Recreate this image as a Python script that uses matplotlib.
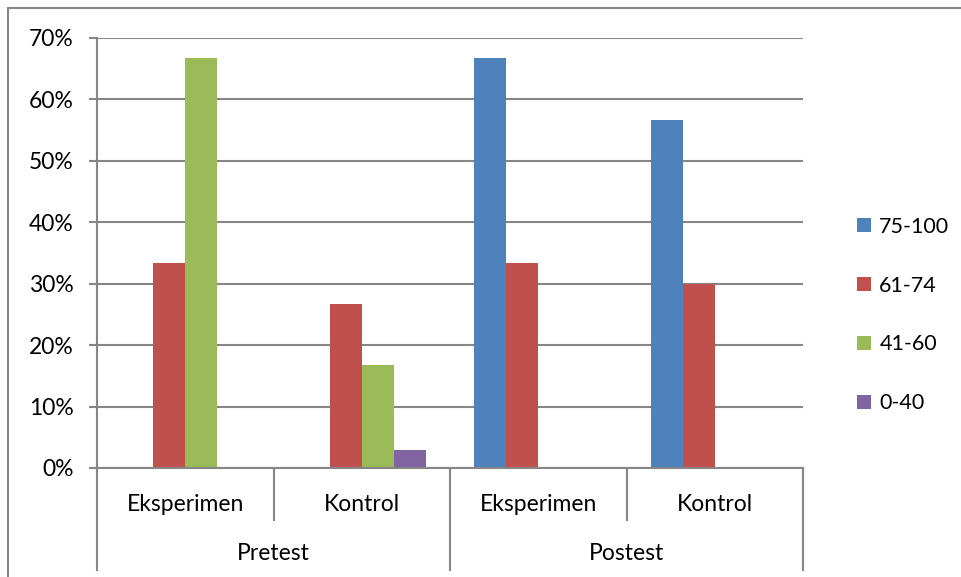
import matplotlib
matplotlib.use("Agg")
import matplotlib.pyplot as plt
from matplotlib.patches import Rectangle
from matplotlib.ticker import FuncFormatter, MultipleLocator
import numpy as np

plt.rcParams['font.family'] = ['Lato', 'DejaVu Sans']

# scores per group, as share of students
groups = ["Eksperimen", "Kontrol", "Eksperimen", "Kontrol"]
phases = ["Pretest", "Postest"]
series = ["75-100", "61-74", "41-60", "0-40"]
colors = ["#4F81BD", "#C0504D", "#9BBB59", "#8064A2"]
s_75_100 = [0.0, 0.0, 0.667, 0.567]
s_61_74 = [0.333, 0.267, 0.333, 0.300]
s_41_60 = [0.667, 0.167, 0.0, 0.0]
s_0_40 = [0.0, 0.030, 0.0, 0.0]
values = [s_75_100, s_61_74, s_41_60, s_0_40]

W, H = 961, 577
fig = plt.figure(figsize=(W / 100, H / 100), dpi=100)
ax = fig.add_axes([97 / W, (H - 468) / H, 706 / W, 430 / H])

gray = "#868686"
fs = 16.5
x = np.arange(len(groups))
w = 1 / 5.5
for i, (name, vals, c) in enumerate(zip(series, values, colors)):
    ax.bar(x + (i - 1.5) * w, vals, width=w, color=c, label=name, zorder=3)

ax.set_xlim(-0.5, len(groups) - 0.5)
ax.set_ylim(0, 0.7)
ax.yaxis.set_major_locator(MultipleLocator(0.1))
ax.yaxis.set_major_formatter(FuncFormatter(lambda v, p: f"{v * 100:.0f}%"))
ax.grid(axis='y', color=gray, lw=1.5, zorder=0)
ax.set_xticks([])
ax.tick_params(axis='y', length=6, width=1.5, color=gray, labelsize=fs, pad=11)
for s in ['top', 'right', 'bottom']:
    ax.spines[s].set_visible(False)
ax.spines['left'].set_color(gray)
ax.spines['left'].set_linewidth(1.5)

# two-level category axis below the plot
tr = ax.get_xaxis_transform()
ax.plot([-0.5, 3.5], [0, 0], color=gray, lw=1.5, transform=tr, clip_on=False, zorder=4)
for xb in [-0.5, 1.5, 3.5]:
    ax.plot([xb, xb], [0, -0.237], color=gray, lw=1.5, transform=tr, clip_on=False)
for xb in [0.5, 2.5]:
    ax.plot([xb, xb], [0, -0.121], color=gray, lw=1.5, transform=tr, clip_on=False)
for xi, g in zip(x, groups):
    ax.text(xi, -0.086, g, transform=tr, ha='center', va='center', fontsize=fs)
for j, ph in enumerate(phases):
    ax.text(0.5 + 2 * j, -0.198, ph, transform=tr, ha='center', va='center', fontsize=fs)

fig.legend(loc='center left', bbox_to_anchor=(838 / W, 1 - 315 / H), frameon=False,
           fontsize=15.5, handlelength=0.62, handleheight=0.62, handletextpad=0.4,
           labelspacing=1.8)

# outer chart frame
fig.add_artist(Rectangle((8 / W, -0.1), 1.2, 1.1 - 8 / H, transform=fig.transFigure,
                         fill=False, edgecolor=gray, lw=1.5))

fig.savefig("out.png", dpi=100)
